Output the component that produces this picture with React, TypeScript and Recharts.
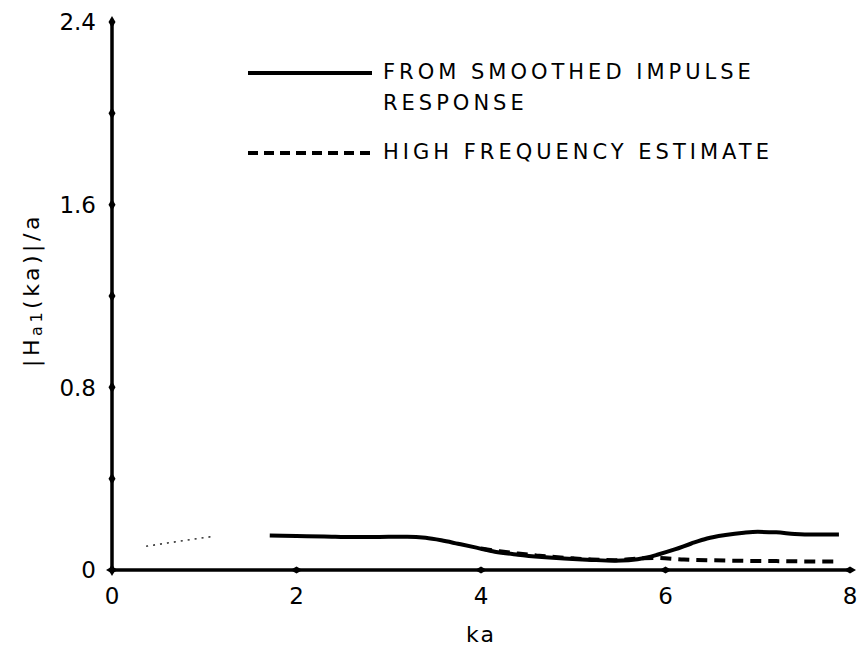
import React from "react";
import { LineChart, Line, XAxis, YAxis, Legend } from "recharts";

// ---- data ----
const xTicks = [0, 2, 4, 6, 8];
const yTicks = [0, 0.4, 0.8, 1.2, 1.6, 2.0, 2.4];
const yLabelled = [0, 0.8, 1.6, 2.4];

// faint dotted start of the impulse-response curve
const dottedKa = [0.37, 0.6, 0.85, 1.08];
const dottedVal = [0.104, 0.118, 0.133, 0.146];

// FROM SMOOTHED IMPULSE RESPONSE
const solidKa = [1.71, 2.0, 2.3, 2.62, 2.9, 3.2, 3.4, 3.57, 3.75, 3.95, 4.15, 4.4, 4.66, 4.9, 5.2, 5.45, 5.6, 5.8, 5.92, 6.1, 6.28, 6.45, 6.65, 6.85, 7.0, 7.2, 7.4, 7.6, 7.88];
const solidVal = [0.151, 0.149, 0.147, 0.144, 0.145, 0.146, 0.141, 0.13, 0.115, 0.098, 0.08, 0.067, 0.057, 0.05, 0.044, 0.041, 0.043, 0.055, 0.068, 0.09, 0.116, 0.138, 0.153, 0.163, 0.167, 0.165, 0.158, 0.155, 0.156];

// HIGH FREQUENCY ESTIMATE
const dashedKa = [4.0, 4.2, 4.4, 4.6, 4.8, 5.0, 5.2, 5.45, 5.7, 5.88, 6.2, 6.7, 7.2, 7.7, 7.85];
const dashedVal = [0.094, 0.082, 0.072, 0.064, 0.057, 0.051, 0.046, 0.043, 0.05, 0.053, 0.046, 0.041, 0.039, 0.037, 0.037];

const legendItems = [
  { lines: ["FROM SMOOTHED IMPULSE", "RESPONSE"], dash: undefined as string | undefined },
  { lines: ["HIGH FREQUENCY ESTIMATE"], dash: "10 6" },
];

const toRows = (xs: number[], ys: number[]) => xs.map((ka, i) => ({ ka, v: ys[i] }));
const dottedData = toRows(dottedKa, dottedVal);
const solidData = toRows(solidKa, solidVal);
const dashedData = toRows(dashedKa, dashedVal);

const FONT = "'DejaVu Sans', sans-serif";
const X_MARGIN = 10;
const Y_MARGIN = 16;

const Diamond = ({ cx, cy, horiz }: { cx: number; cy: number; horiz: boolean }) => {
  const a = horiz ? 6 : 3.5;
  const b = horiz ? 3.5 : 6;
  return <polygon points={`${cx - a},${cy} ${cx},${cy - b} ${cx + a},${cy} ${cx},${cy + b}`} fill="#000" />;
};

const YTick = (props: any) => {
  const { x, y, payload } = props;
  const v = payload.value as number;
  const show = yLabelled.some((t) => Math.abs(t - v) < 1e-6);
  return (
    <g>
      <Diamond cx={x + Y_MARGIN} cy={y} horiz={false} />
      {show && (
        <text x={x} y={y} dy="0.36em" textAnchor="end" fontFamily={FONT} fontSize={23} fill="#000">
          {v === 0 ? "0" : v.toFixed(1)}
        </text>
      )}
    </g>
  );
};

const XTick = (props: any) => {
  const { x, y, payload } = props;
  return (
    <g>
      <Diamond cx={x} cy={y - X_MARGIN} horiz={true} />
      <text x={x} y={y} dy={24} textAnchor="middle" fontFamily={FONT} fontSize={23} fill="#000">
        {String(payload.value)}
      </text>
    </g>
  );
};

const XLabel = (props: any) => {
  const vb = props.viewBox || { x: 112, y: 570, width: 738, height: 40 };
  return (
    <text x={vb.x + vb.width / 2} y={vb.y + 72} textAnchor="middle" fontFamily={FONT} fontSize={22} letterSpacing={2} fill="#000">
      ka
    </text>
  );
};

const YLabel = (props: any) => {
  const vb = props.viewBox || { x: 0, y: 22, width: 112, height: 548 };
  const cx = vb.x + 31;
  const cy = vb.y + vb.height / 2 - 6;
  return (
    <text
      x={cx}
      y={cy}
      transform={`rotate(-90, ${cx}, ${cy})`}
      textAnchor="middle"
      dominantBaseline="central"
      fontFamily={FONT}
      fontSize={22}
      letterSpacing={3.5}
      fill="#000"
    >
      |H<tspan fontSize={16} dy={5}>a1</tspan>
      <tspan dy={-5}>(ka)|/a</tspan>
    </text>
  );
};

const LegendContent = () => (
  <div style={{ fontFamily: FONT, fontSize: 21, letterSpacing: 4, color: "#000" }}>
    {legendItems.map((it, i) => (
      <div key={i} style={{ display: "flex", alignItems: "flex-start", marginBottom: 18 }}>
        <svg width={137} height={31} style={{ flex: "none" }}>
          <line x1={2} y1={16} x2={126} y2={16} stroke="#000" strokeWidth={4} strokeDasharray={it.dash} />
        </svg>
        <div style={{ lineHeight: "31px", whiteSpace: "nowrap" }}>
          {it.lines.map((l, j) => (
            <div key={j}>{l}</div>
          ))}
        </div>
      </div>
    ))}
  </div>
);

export default function App() {
  return (
    <div style={{ position: "absolute", left: 0, top: 0, width: 860, height: 649, background: "#fff" }}>
      <LineChart width={860} height={649} margin={{ top: 22, right: 10, bottom: 39, left: 0 }}>
        <XAxis
          type="number"
          dataKey="ka"
          domain={[0, 8]}
          ticks={xTicks}
          allowDataOverflow
          height={40}
          tickSize={0}
          tickMargin={X_MARGIN}
          tickLine={false}
          axisLine={{ stroke: "#000", strokeWidth: 3.5 }}
          tick={<XTick />}
          label={<XLabel />}
        />
        <YAxis
          type="number"
          dataKey="v"
          domain={[0, 2.4]}
          ticks={yTicks}
          allowDataOverflow
          width={112}
          tickSize={0}
          tickMargin={Y_MARGIN}
          tickLine={false}
          axisLine={{ stroke: "#000", strokeWidth: 3.5 }}
          tick={<YTick />}
          label={<YLabel />}
        />
        <Legend
          content={<LegendContent />}
          layout="horizontal"
          verticalAlign="middle"
          align="center"
          wrapperStyle={{ position: "absolute", top: 57, left: 246, width: 600 }}
        />
        <Line
          data={dottedData}
          dataKey="v"
          type="monotone"
          stroke="#333"
          strokeWidth={1.6}
          strokeDasharray="2 5"
          dot={false}
          isAnimationActive={false}
          legendType="none"
        />
        <Line
          data={solidData}
          dataKey="v"
          type="monotone"
          stroke="#000"
          strokeWidth={4}
          dot={false}
          isAnimationActive={false}
        />
        <Line
          data={dashedData}
          dataKey="v"
          type="monotone"
          stroke="#000"
          strokeWidth={4}
          strokeDasharray="11 7"
          dot={false}
          isAnimationActive={false}
        />
      </LineChart>
    </div>
  );
}
